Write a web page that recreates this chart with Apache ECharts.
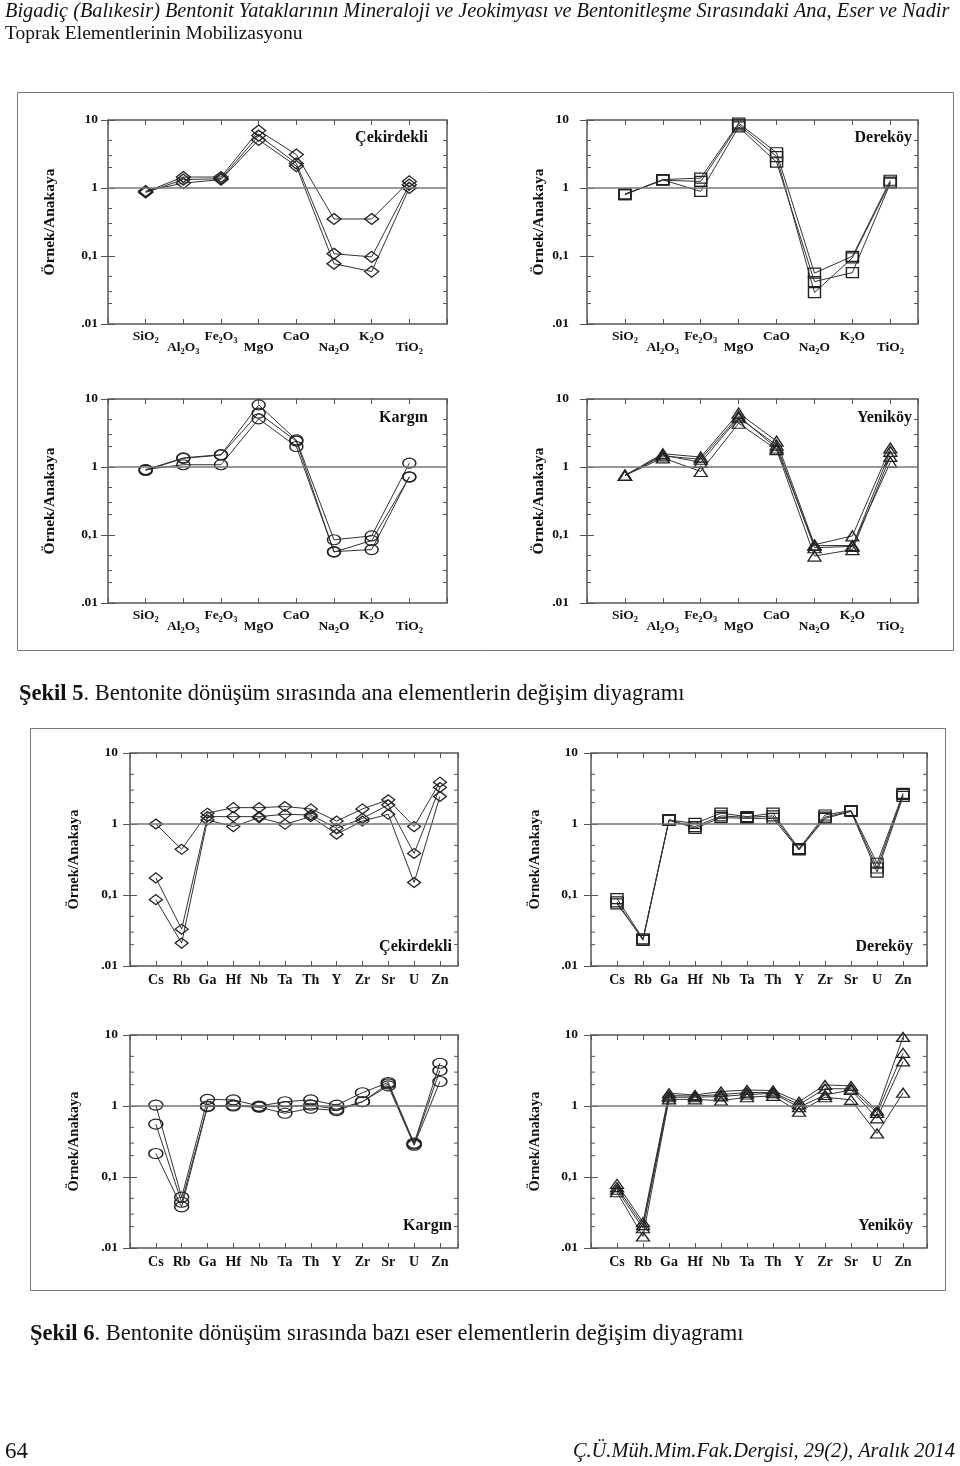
<!DOCTYPE html>
<html><head><meta charset="utf-8">
<script src="https://cdn.jsdelivr.net/npm/echarts@6/dist/echarts.min.js"></script>
<style>html,body{margin:0;padding:0;background:#fff}#c{width:960px;height:1466px}</style>
</head><body><div id="c"></div><script>
// ---------- DATA ----------
const majorElements = ['SiO2','Al2O3','Fe2O3','MgO','CaO','Na2O','K2O','TiO2'];
const traceElements = ['Cs','Rb','Ga','Hf','Nb','Ta','Th','Y','Zr','Sr','U','Zn'];
const yTickLabels = ['.01','0,1','1','10'];
const minorTickValues = [0.02,0.03,0.05,0.2,0.3,0.5,2,3,5];
const yAxisName = 'Örnek/Anakaya';
const locationNames = ['Çekirdekli','Dereköy','Kargın','Yeniköy'];

const cekirdekliMajor = [
  [0.88, 1.45, 1.45, 7.0, 3.1, 0.35, 0.35, 1.25],
  [0.86, 1.33, 1.37, 5.9, 2.3, 0.108, 0.097, 1.12],
  [0.90, 1.18, 1.33, 5.1, 2.1, 0.077, 0.059, 1.0]
];
const derekoyMajor = [
  [0.80, 1.33, 1.40, 9.0, 3.3, 0.056, 0.099, 1.30],
  [0.82, 1.30, 1.25, 8.5, 2.9, 0.029, 0.094, 1.22],
  [0.80, 1.32, 0.89, 7.9, 2.4, 0.042, 0.057, 1.18]
];
const karginMajor = [
  [0.91, 1.36, 1.52, 8.2, 2.5, 0.085, 0.097, 1.14],
  [0.89, 1.34, 1.50, 6.2, 2.4, 0.056, 0.083, 0.71],
  [0.92, 1.08, 1.08, 5.1, 2.0, 0.057, 0.061, 0.72]
];
const yenikoyMajor = [
  [0.75, 1.57, 1.40, 6.2, 2.4, 0.072, 0.097, 1.90],
  [0.75, 1.50, 1.17, 5.3, 2.1, 0.065, 0.068, 1.70],
  [0.75, 1.36, 0.86, 4.4, 1.8, 0.049, 0.061, 1.43],
  [0.76, 1.45, 1.30, 5.6, 1.9, 0.070, 0.070, 1.17]
];
const cekirdekliTrace = [
  [1.0, 0.44, 1.42, 1.70, 1.70, 1.76, 1.63, 1.10, 1.63, 2.19, 0.92, 3.88],
  [0.174, 0.033, 1.27, 1.27, 1.27, 1.37, 1.34, 0.87, 1.20, 1.86, 0.385, 3.27],
  [0.086, 0.021, 1.14, 0.92, 1.23, 0.99, 1.27, 0.72, 1.10, 1.37, 0.15, 2.44]
];
const derekoyTrace = [
  [0.089, 0.024, 1.14, 1.02, 1.42, 1.27, 1.42, 0.45, 1.34, 1.55, 0.28, 2.70],
  [0.075, 0.024, 1.12, 0.92, 1.30, 1.24, 1.30, 0.44, 1.25, 1.52, 0.24, 2.60],
  [0.080, 0.023, 1.15, 0.87, 1.23, 1.20, 1.20, 0.43, 1.20, 1.50, 0.21, 2.44]
];
const karginTrace = [
  [1.03, 0.052, 1.24, 1.22, 1.00, 1.15, 1.22, 1.03, 1.54, 2.14, 0.30, 4.00],
  [0.556, 0.044, 1.00, 1.03, 0.98, 0.98, 1.03, 0.90, 1.15, 2.05, 0.29, 3.16],
  [0.214, 0.038, 0.98, 1.00, 0.96, 0.79, 0.93, 0.86, 1.15, 1.92, 0.28, 2.21]
];
const yenikoyTrace = [
  [0.080, 0.023, 1.51, 1.43, 1.60, 1.68, 1.65, 1.15, 1.98, 1.92, 0.86, 9.4],
  [0.072, 0.021, 1.40, 1.38, 1.45, 1.55, 1.55, 1.05, 1.75, 1.75, 0.80, 5.6],
  [0.066, 0.019, 1.33, 1.33, 1.36, 1.45, 1.51, 0.96, 1.43, 1.68, 0.67, 4.25],
  [0.061, 0.0145, 1.24, 1.24, 1.19, 1.33, 1.39, 0.83, 1.33, 1.22, 0.41, 1.54]
];

const headerLine1 = 'Bigadiç (Balıkesir) Bentonit Yataklarının Mineraloji ve Jeokimyası ve Bentonitleşme Sırasındaki Ana, Eser ve Nadir';
const headerLine2 = 'Toprak Elementlerinin Mobilizasyonu';
const caption5 = ['Şekil 5', '. Bentonite dönüşüm sırasında ana elementlerin değişim diyagramı'];
const caption6 = ['Şekil 6', '. Bentonite dönüşüm sırasında bazı eser elementlerin değişim diyagramı'];
const pageNumber = '64';
const journalRef = 'Ç.Ü.Müh.Mim.Fak.Dergisi, 29(2), Aralık 2014';

// ---------- PANELS ----------
const panels = [
  {title: locationNames[0], cats: majorElements, rows: cekirdekliMajor, symbol: 'diamond', size: [14, 11]},
  {title: locationNames[1], cats: majorElements, rows: derekoyMajor, symbol: 'rect', size: [12, 10]},
  {title: locationNames[2], cats: majorElements, rows: karginMajor, symbol: 'circle', size: [13, 10]},
  {title: locationNames[3], cats: majorElements, rows: yenikoyMajor, symbol: 'triangle', size: [13, 10]},
  {title: locationNames[0], cats: traceElements, rows: cekirdekliTrace, symbol: 'diamond', size: [13, 10]},
  {title: locationNames[1], cats: traceElements, rows: derekoyTrace, symbol: 'rect', size: [12, 10]},
  {title: locationNames[2], cats: traceElements, rows: karginTrace, symbol: 'circle', size: [14, 10]},
  {title: locationNames[3], cats: traceElements, rows: yenikoyTrace, symbol: 'triangle', size: [13, 9]}
];
const layout = [
  {g: [108, 120, 339, 204], xMax: 9,     nameGap: 50, lblMargin: 10, title: [428, 138], major: true},
  {g: [587, 120, 331, 204], xMax: 8.73,  nameGap: 40, lblMargin: 18, title: [912, 138], major: true},
  {g: [108, 399, 339, 204], xMax: 9,     nameGap: 50, lblMargin: 10, title: [428, 418], major: true},
  {g: [587, 399, 331, 204], xMax: 8.73,  nameGap: 40, lblMargin: 18, title: [912, 418], major: true},
  {g: [130, 753, 328, 213], xMax: 12.7,  nameGap: 48, lblMargin: 12, title: [452, 947], major: false},
  {g: [591, 753, 336, 213], xMax: 12.92, nameGap: 48, lblMargin: 13, title: [913, 947], major: false},
  {g: [130, 1035, 328, 213], xMax: 12.7, nameGap: 48, lblMargin: 12, title: [452, 1226], major: false},
  {g: [591, 1035, 336, 213], xMax: 12.92, nameGap: 48, lblMargin: 13, title: [913, 1226], major: false}
];

const FONT = '"Liberation Serif", "Times New Roman", serif';
const FRAME = '#555';
const LINE = '#333';

function richFormula(name) {
  return '{n|' + name.replace(/(\d+)/g, '}{s|$1}{n|') + '}';
}

const grid = [], xAxis = [], yAxis = [], series = [], graphic = [];

panels.forEach((p, i) => {
  const L = layout[i];
  grid.push({left: L.g[0], top: L.g[1], width: L.g[2], height: L.g[3], show: true,
    borderColor: FRAME, borderWidth: 1.5, backgroundColor: 'transparent', containLabel: false});
  const labelFmt = (v) => {
    const idx = Math.round(v);
    if (Math.abs(v - idx) > 1e-6 || idx < 1 || idx > p.cats.length) return '';
    const name = p.cats[idx - 1];
    if (!L.major) return name;
    const r = richFormula(name);
    return (idx % 2 === 0) ? '{g| }\n' + r : r;
  };
  xAxis.push({
    type: 'value', gridIndex: i, min: 0, max: L.xMax, interval: 1, position: 'bottom',
    axisLine: {show: false}, splitLine: {show: false},
    axisTick: {show: true, inside: true, length: 5, lineStyle: {color: FRAME, width: 1}},
    axisLabel: {
      show: true, formatter: labelFmt, margin: L.major ? 5 : 7, color: '#111',
      fontFamily: FONT, fontWeight: 'bold', fontSize: 14, showMinLabel: true, showMaxLabel: true,
      rich: L.major ? {
        n: {fontFamily: FONT, fontWeight: 'bold', fontSize: 13.5, lineHeight: 16, color: '#111'},
        s: {fontFamily: FONT, fontWeight: 'bold', fontSize: 8.5, lineHeight: 16, verticalAlign: 'bottom', color: '#111'},
        g: {fontSize: 6, lineHeight: 11}
      } : undefined
    }
  });
  xAxis.push({
    type: 'value', gridIndex: i, min: 0, max: L.xMax, interval: 1, position: 'top',
    axisLine: {show: false}, splitLine: {show: false}, axisLabel: {show: false},
    axisTick: {show: true, inside: true, length: 5, lineStyle: {color: FRAME, width: 1}}
  });
  const yCommon = {
    type: 'log', logBase: 10, min: 0.01, max: 10, gridIndex: i,
    axisLine: {show: false}, splitLine: {show: false}, minorTick: {show: false},
    axisTick: {show: true, inside: true, length: 7, lineStyle: {color: FRAME, width: 1}}
  };
  yAxis.push(Object.assign({}, yCommon, {
    position: 'left',
    axisLabel: {
      formatter: (v) => yTickLabels[Math.round(Math.log10(v)) + 2] || '',
      margin: L.lblMargin, fontFamily: FONT, fontWeight: 'bold', fontSize: 13.5, color: '#111'
    },
    name: yAxisName, nameLocation: 'middle', nameRotate: 90, nameGap: L.nameGap,
    nameTextStyle: {fontFamily: FONT, fontWeight: 'bold', fontSize: L.major ? 15.5 : 14.5, color: '#111'}
  }));
  yAxis.push(Object.assign({}, yCommon, {position: 'right', axisLabel: {show: false}}));

  p.rows.forEach((row, k) => {
    const s = {
      type: 'line', xAxisIndex: 2 * i, yAxisIndex: 2 * i,
      data: row.map((v, j) => [j + 1, v]),
      symbol: p.symbol, symbolSize: p.size, showSymbol: true,
      lineStyle: {color: LINE, width: 1},
      itemStyle: {color: 'rgba(255,255,255,0)', borderColor: '#222', borderWidth: 1.3},
      emphasis: {disabled: true}, silent: true, z: 3
    };
    if (k === 0) {
      s.markLine = {silent: true, symbol: 'none', label: {show: false}, animation: false,
        lineStyle: {color: '#777', width: 1.5, type: 'solid'}, data: [{yAxis: 1}]};
    }
    series.push(s);
  });
  // minor ticks on both vertical edges, placed through the log scale
  series.push({
    type: 'custom', xAxisIndex: 2 * i, yAxisIndex: 2 * i, silent: true, z: 2,
    data: minorTickValues.map(v => [0, v]),
    renderItem: (params, api) => {
      const cs = params.coordSys;
      const y = api.coord([0, api.value(1)])[1];
      return {type: 'group', children: [
        {type: 'line', shape: {x1: cs.x, y1: y, x2: cs.x + 4, y2: y}, style: {stroke: FRAME, lineWidth: 1}},
        {type: 'line', shape: {x1: cs.x + cs.width - 4, y1: y, x2: cs.x + cs.width, y2: y}, style: {stroke: FRAME, lineWidth: 1}}
      ]};
    }
  });
  graphic.push({type: 'text', x: L.title[0], y: L.title[1], silent: true,
    style: {text: p.title, font: 'bold 16px ' + FONT, fill: '#111', align: 'right', textAlign: 'right',
      verticalAlign: 'middle', textVerticalAlign: 'middle'}});
});

// page texts and figure boxes
graphic.push(
  {type: 'rect', silent: true, shape: {x: 17.5, y: 92.5, width: 936, height: 558}, style: {fill: 'none', stroke: '#777', lineWidth: 1}},
  {type: 'rect', silent: true, shape: {x: 30.5, y: 728.5, width: 915, height: 562}, style: {fill: 'none', stroke: '#777', lineWidth: 1}},
  {type: 'text', x: 5, y: 12, silent: true, style: {text: headerLine1, font: 'italic 20.3px ' + FONT, fill: '#111', verticalAlign: 'middle', textVerticalAlign: 'middle'}},
  {type: 'text', x: 5, y: 34, silent: true, style: {text: headerLine2, font: '19.5px ' + FONT, fill: '#111', verticalAlign: 'middle', textVerticalAlign: 'middle'}},
  {type: 'text', x: 19, y: 694, silent: true, style: {text: '{b|' + caption5[0] + '}' + caption5[1], font: '22.5px ' + FONT, fill: '#111',
    verticalAlign: 'middle', textVerticalAlign: 'middle', rich: {b: {font: 'bold 22.5px ' + FONT, fill: '#111'}}}},
  {type: 'text', x: 30, y: 1334, silent: true, style: {text: '{b|' + caption6[0] + '}' + caption6[1], font: '22.5px ' + FONT, fill: '#111',
    verticalAlign: 'middle', textVerticalAlign: 'middle', rich: {b: {font: 'bold 22.5px ' + FONT, fill: '#111'}}}},
  {type: 'text', x: 5, y: 1452, silent: true, style: {text: pageNumber, font: '23px ' + FONT, fill: '#111', verticalAlign: 'middle', textVerticalAlign: 'middle'}},
  {type: 'text', x: 955, y: 1452, silent: true, style: {text: journalRef, font: 'italic 20.4px ' + FONT, fill: '#111', align: 'right', textAlign: 'right', verticalAlign: 'middle', textVerticalAlign: 'middle'}}
);

const chart = echarts.init(document.getElementById('c'), null, {renderer: 'canvas'});
chart.setOption({animation: false, backgroundColor: '#fff', grid, xAxis, yAxis, series, graphic});
</script></body></html>
